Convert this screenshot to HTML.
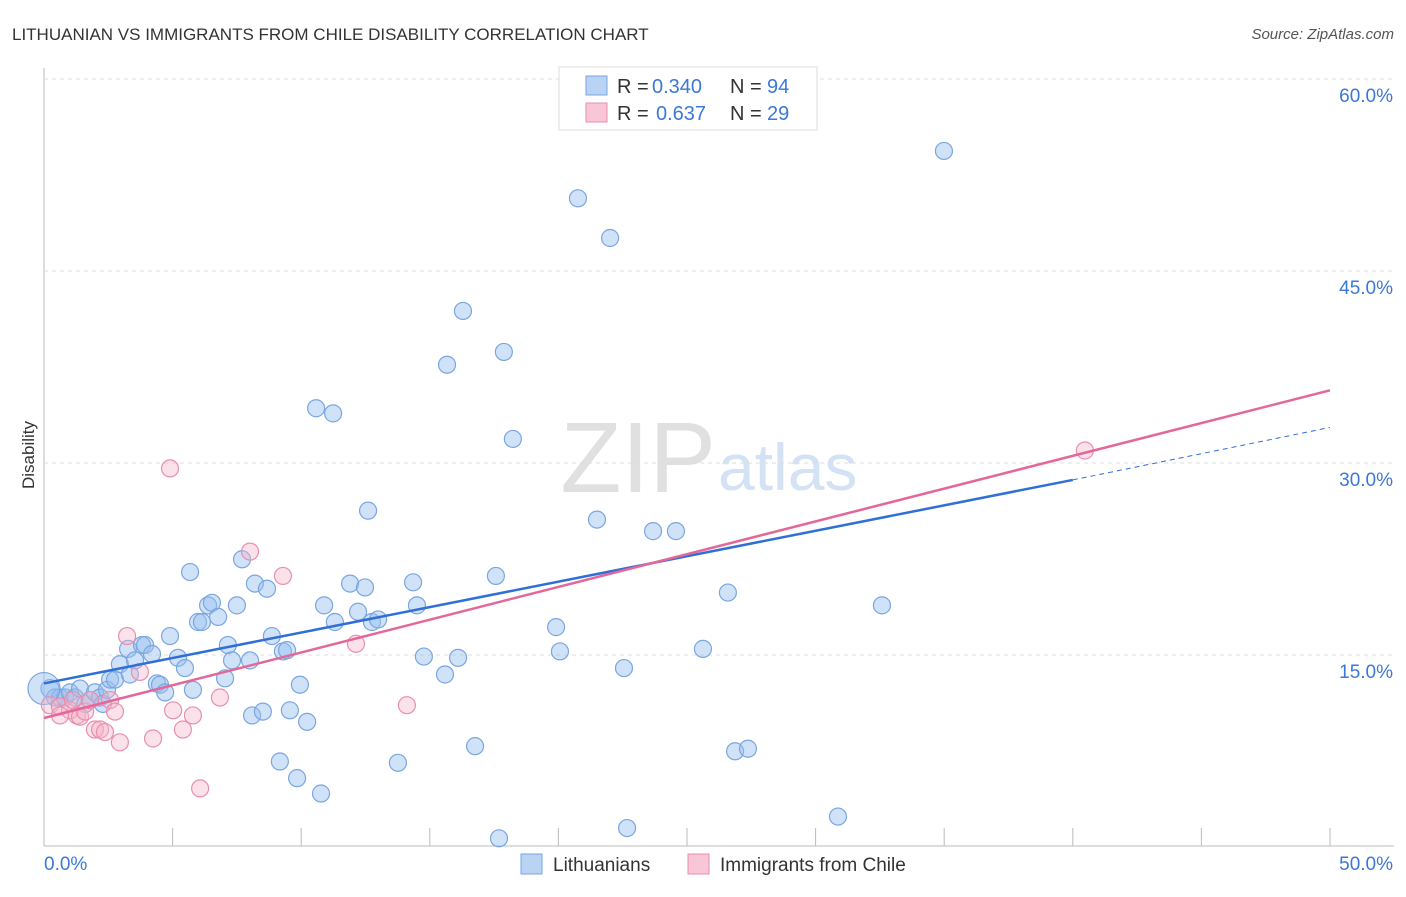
<!DOCTYPE html>
<html><head><meta charset="utf-8"><style>
body{margin:0;background:#fff;font-family:"Liberation Sans",sans-serif}
svg text{font-family:"Liberation Sans",sans-serif}
</style></head><body>
<svg id="c" width="1406" height="892">
<text x="12" y="40" font-size="17" fill="#333">LITHUANIAN VS IMMIGRANTS FROM CHILE DISABILITY CORRELATION CHART</text>
<text x="1394" y="39" font-size="15" fill="#555" text-anchor="end" font-style="italic">Source: ZipAtlas.com</text>
<text x="34" y="455" font-size="17" fill="#333" text-anchor="middle" transform="rotate(-90 34 455)">Disability</text>
<text x="716" y="492" font-size="100" fill="#e0e0e0" text-anchor="end" font-family="Liberation Serif">ZIP</text>
<text x="718" y="490" font-size="66" fill="#d3e2f4">atlas</text>
<g id="grid"></g><g id="pts"></g><g id="lines"></g>
<g>
<rect x="559" y="67" width="258" height="63" fill="#fff" stroke="#ddd"/>
<rect x="586" y="76" width="21" height="19" fill="#b9d3f5" stroke="#7aa6e0"/>
<rect x="586" y="103" width="21" height="19" fill="#f8c6d6" stroke="#e98fae"/>
<text x="617" y="93" font-size="20" fill="#333">R =</text>
<text x="652" y="93" font-size="20" fill="#3b78d8">0.340</text>
<text x="730" y="93" font-size="20" fill="#333">N =</text>
<text x="767" y="93" font-size="20" fill="#3b78d8">94</text>
<text x="617" y="120" font-size="20" fill="#333">R =</text>
<text x="656" y="120" font-size="20" fill="#3b78d8">0.637</text>
<text x="730" y="120" font-size="20" fill="#333">N =</text>
<text x="767" y="120" font-size="20" fill="#3b78d8">29</text>
</g>
<g>
<rect x="521" y="854" width="21" height="20" fill="#b9d3f5" stroke="#7aa6e0"/>
<text x="553" y="871" font-size="19" fill="#333">Lithuanians</text>
<rect x="688" y="854" width="21" height="20" fill="#f8c6d6" stroke="#e98fae"/>
<text x="720" y="871" font-size="19" fill="#333">Immigrants from Chile</text>
</g>
</svg>
<script>
const xTicks=[0,5,10,15,20,25,30,35,40,45,50];
const yTicks=[15,30,45,60];
const blueX=[0.23,0.43,0.62,0.82,1.01,1.21,1.4,1.6,1.79,1.98,2.18,2.29,2.45,2.57,2.76,2.95,3.27,3.34,3.54,3.81,3.93,4.2,4.39,4.51,4.71,4.9,5.21,5.48,5.68,5.79,5.99,6.14,6.38,6.53,6.77,7.04,7.15,7.31,7.5,7.7,8.01,8.09,8.2,8.51,8.67,8.86,9.17,9.29,9.45,9.56,9.84,9.95,10.23,10.58,10.77,10.89,11.24,11.31,11.9,12.21,12.48,12.6,12.75,12.99,13.76,14.35,14.5,14.77,15.59,15.67,16.1,16.29,16.76,17.57,17.69,17.88,18.23,19.91,20.06,20.76,21.5,22.01,22.55,22.67,23.68,24.57,25.62,26.59,26.87,27.37,30.87,32.58,34.99];
const blueY=[12.3,11.6,11.6,11.6,12.0,11.6,12.3,11.1,11.4,12.0,11.6,11.1,12.2,13.0,13.0,14.2,15.4,13.4,14.5,15.7,15.7,15.0,12.7,12.6,12.0,16.4,14.7,13.9,21.4,12.2,17.5,17.5,18.8,19.0,17.9,13.1,15.7,14.5,18.8,22.4,14.5,10.2,20.5,10.5,20.1,16.4,6.6,15.2,15.3,10.6,5.3,12.6,9.7,34.2,4.1,18.8,33.8,17.5,20.5,18.3,20.2,26.2,17.5,17.7,6.5,20.6,18.8,14.8,13.4,37.6,14.7,41.8,7.8,21.1,0.6,38.6,31.8,17.1,15.2,50.6,25.5,47.5,13.9,1.4,24.6,24.6,15.4,19.8,7.4,7.6,2.3,18.8,54.3];
const pinkX=[0.23,0.62,1.01,1.13,1.28,1.4,1.6,1.79,1.98,2.18,2.37,2.57,2.76,2.95,3.23,3.73,4.24,4.9,5.02,5.4,5.79,6.07,6.84,8.01,9.29,12.13,14.11,40.47,0.62];
const pinkY=[11.0,10.9,10.6,11.4,10.2,10.1,10.5,11.4,9.1,9.1,8.9,11.4,10.5,8.1,16.4,13.6,8.4,29.5,10.6,9.1,10.2,4.5,11.6,23.0,21.1,15.8,11.0,30.9,10.2];
const blueLine=[[0,12.7],[40,28.6],[50,32.7]];
const pinkLine=[[0,10.0],[50,35.6]];
const X=v=>44+v*25.72, Y=v=>846-v*12.8;
const NS='http://www.w3.org/2000/svg';
function mk(t,a,p){const e=document.createElementNS(NS,t);for(const k in a)e.setAttribute(k,a[k]);p.appendChild(e);return e;}
const g=document.getElementById('grid'),P=document.getElementById('pts'),L=document.getElementById('lines');
let ax=mk('line',{x1:44,y1:68,x2:44,y2:846,stroke:'#bbb'},g);

let bx=mk('line',{x1:44,y1:846,x2:1394,y2:846,stroke:'#bbb'},g);

yTicks.forEach(t=>{let l=mk('line',{x1:44,y1:Y(t)+1,x2:1394,y2:Y(t)+1,stroke:'#ddd','stroke-dasharray':'4,4'},g);

let tx=mk('text',{x:1393,y:Y(t)+24,'font-size':19,fill:'#3b78d8','text-anchor':'end'},g);tx.textContent=t.toFixed(1)+'%';
});
xTicks.forEach(t=>{let l=mk('line',{x1:X(t),y1:828,x2:X(t),y2:846,stroke:'#bbb'},g);
});
[[0,'start'],[50,'end']].forEach(([t,a])=>{let tx=mk('text',{x:X(t)+(t?63:0),y:870,'font-size':19,fill:'#3b78d8','text-anchor':a},g);tx.textContent=t.toFixed(1)+'%';
});
blueX.forEach((x,i)=>{let c=mk('circle',{cx:X(x),cy:Y(blueY[i]),r:i==0?9:8.5,fill:'rgba(150,190,240,0.45)',stroke:'#7aa6e0','stroke-width':1.2},P);
});
let big=mk('circle',{cx:X(0),cy:Y(12.3),r:16,fill:'rgba(150,190,240,0.45)',stroke:'#7aa6e0','stroke-width':1.2},P);

pinkX.forEach((x,i)=>{let c=mk('circle',{cx:X(x),cy:Y(pinkY[i]),r:8.5,fill:'rgba(245,180,200,0.4)',stroke:'#e98fae','stroke-width':1.2},P);
});
let b1=mk('line',{x1:X(blueLine[0][0]),y1:Y(blueLine[0][1]),x2:X(blueLine[1][0]),y2:Y(blueLine[1][1]),stroke:'#2f6fd6','stroke-width':2.5},L);

let b2=mk('line',{x1:X(blueLine[1][0]),y1:Y(blueLine[1][1]),x2:X(blueLine[2][0]),y2:Y(blueLine[2][1]),stroke:'#2f6fd6','stroke-width':1,'stroke-dasharray':'5,4'},L);

let p1=mk('line',{x1:X(pinkLine[0][0]),y1:Y(pinkLine[0][1]),x2:X(pinkLine[1][0]),y2:Y(pinkLine[1][1]),stroke:'#e4679a','stroke-width':2.5},L);

</script>
</body></html>
